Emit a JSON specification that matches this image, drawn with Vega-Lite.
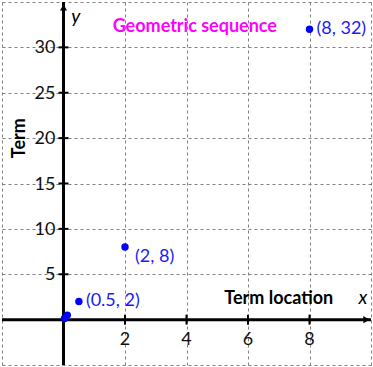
{
  "$schema": "https://vega.github.io/schema/vega-lite/v6.json",
  "width": 373,
  "height": 367,
  "autosize": {"type": "fit", "contains": "padding"},
  "padding": 0,
  "background": "white",
  "config": {"view": {"stroke": null}, "font": "Lato"},
  "datasets": {
    "pts": [
      {"x": 0.03125, "y": 0.125, "label": ""},
      {"x": 0.125, "y": 0.5, "label": ""},
      {"x": 0.5, "y": 2, "label": "(0.5, 2)"},
      {"x": 2, "y": 8, "label": "(2, 8)"},
      {"x": 8, "y": 32, "label": "(8, 32)"}
    ],
    "axes": [
      {"x": -2, "x2": 10, "y": 0, "y2": 0},
      {"x": 0, "x2": 0, "y": -5, "y2": 35}
    ],
    "yt": [{"v": 5}, {"v": 10}, {"v": 15}, {"v": 20}, {"v": 25}, {"v": 30}],
    "xt": [{"v": 2}, {"v": 4}, {"v": 6}, {"v": 8}]
  },
  "layer": [
    {
      "data": {"name": "axes"},
      "mark": {"type": "rule", "color": "black", "strokeWidth": 3},
      "encoding": {
        "x": {"field": "x", "type": "quantitative", "scale": {"domain": [-2, 10], "nice": false, "zero": false},
          "axis": {"values": [-2, 0, 2, 4, 6, 8, 10], "grid": true, "gridDash": [3, 3], "gridColor": "#808080", "gridOpacity": 1, "labels": false, "ticks": false, "domain": false, "title": null}},
        "x2": {"field": "x2"},
        "y": {"field": "y", "type": "quantitative", "scale": {"domain": [-5, 35], "nice": false, "zero": false},
          "axis": {"values": [-5, 0, 5, 10, 15, 20, 25, 30, 35], "grid": true, "gridDash": [3, 3], "gridColor": "#808080", "gridOpacity": 1, "labels": false, "ticks": false, "domain": false, "title": null}},
        "y2": {"field": "y2"}
      }
    },
    {
      "data": {"name": "yt"},
      "mark": {"type": "tick", "orient": "horizontal", "color": "black", "size": 10, "thickness": 2, "opacity": 1},
      "encoding": {"x": {"datum": 0, "type": "quantitative"}, "y": {"field": "v", "type": "quantitative"}}
    },
    {
      "data": {"name": "xt"},
      "mark": {"type": "tick", "orient": "vertical", "color": "black", "size": 10, "thickness": 2, "opacity": 1},
      "encoding": {"x": {"field": "v", "type": "quantitative"}, "y": {"datum": 0, "type": "quantitative"}}
    },
    {
      "data": {"name": "yt"},
      "mark": {"type": "text", "align": "right", "baseline": "middle", "dx": -8, "dy": 1, "fontSize": 18, "color": "#111"},
      "encoding": {"x": {"datum": 0, "type": "quantitative"}, "y": {"field": "v", "type": "quantitative"}, "text": {"field": "v"}}
    },
    {
      "data": {"name": "xt"},
      "mark": {"type": "text", "align": "center", "baseline": "middle", "dy": 20, "fontSize": 18, "color": "#111"},
      "encoding": {"x": {"field": "v", "type": "quantitative"}, "y": {"datum": 0, "type": "quantitative"}, "text": {"field": "v"}}
    },
    {
      "data": {"values": [{"s": "up"}]},
      "mark": {"type": "point", "shape": "triangle-up", "filled": true, "color": "black", "size": 50, "opacity": 1},
      "encoding": {"x": {"datum": 0, "type": "quantitative"}, "y": {"datum": 34.4, "type": "quantitative"}}
    },
    {
      "data": {"values": [{"s": "right"}]},
      "mark": {"type": "point", "shape": "triangle-right", "filled": true, "color": "black", "size": 50, "opacity": 1},
      "encoding": {"x": {"datum": 9.85, "type": "quantitative"}, "y": {"datum": 0, "type": "quantitative"}}
    },
    {
      "data": {"name": "pts"},
      "mark": {"type": "point", "filled": true, "color": "#0000ff", "size": 55, "opacity": 1},
      "encoding": {"x": {"field": "x", "type": "quantitative"}, "y": {"field": "y", "type": "quantitative"}}
    },
    {
      "data": {"name": "pts"},
      "transform": [{"filter": "datum.x == 0.5 || datum.x == 8"}],
      "mark": {"type": "text", "align": "left", "baseline": "middle", "dx": 7, "fontSize": 18, "color": "#1a1aff"},
      "encoding": {"x": {"field": "x", "type": "quantitative"}, "y": {"field": "y", "type": "quantitative"}, "text": {"field": "label"}}
    },
    {
      "data": {"name": "pts"},
      "transform": [{"filter": "datum.x == 2"}],
      "mark": {"type": "text", "align": "left", "baseline": "middle", "dx": 10, "dy": 10, "fontSize": 18, "color": "#1a1aff"},
      "encoding": {"x": {"field": "x", "type": "quantitative"}, "y": {"field": "y", "type": "quantitative"}, "text": {"field": "label"}}
    },
    {
      "data": {"values": [{"t": "Geometric sequence"}]},
      "mark": {"type": "text", "align": "center", "baseline": "middle", "fontSize": 18, "fontWeight": "bold", "color": "#ff00ff"},
      "encoding": {"x": {"datum": 4.27, "type": "quantitative"}, "y": {"datum": 32.3, "type": "quantitative"}, "text": {"field": "t"}}
    },
    {
      "data": {"values": [{"t": "Term location"}]},
      "mark": {"type": "text", "align": "center", "baseline": "middle", "fontSize": 18, "fontWeight": "bold", "color": "black"},
      "encoding": {"x": {"datum": 7.0, "type": "quantitative"}, "y": {"datum": 2.3, "type": "quantitative"}, "text": {"field": "t"}}
    },
    {
      "data": {"values": [{"t": "Term"}]},
      "mark": {"type": "text", "align": "center", "baseline": "middle", "angle": 270, "fontSize": 18, "fontWeight": "bold", "color": "black"},
      "encoding": {"x": {"datum": -1.42, "type": "quantitative"}, "y": {"datum": 20, "type": "quantitative"}, "text": {"field": "t"}}
    },
    {
      "data": {"values": [{"t": "x"}]},
      "mark": {"type": "text", "align": "center", "baseline": "middle", "fontSize": 19, "fontStyle": "italic", "color": "black"},
      "encoding": {"x": {"datum": 9.74, "type": "quantitative"}, "y": {"datum": 2.4, "type": "quantitative"}, "text": {"field": "t"}}
    },
    {
      "data": {"values": [{"t": "y"}]},
      "mark": {"type": "text", "align": "center", "baseline": "middle", "fontSize": 19, "fontStyle": "italic", "color": "black"},
      "encoding": {"x": {"datum": 0.4, "type": "quantitative"}, "y": {"datum": 33.4, "type": "quantitative"}, "text": {"field": "t"}}
    }
  ]
}
